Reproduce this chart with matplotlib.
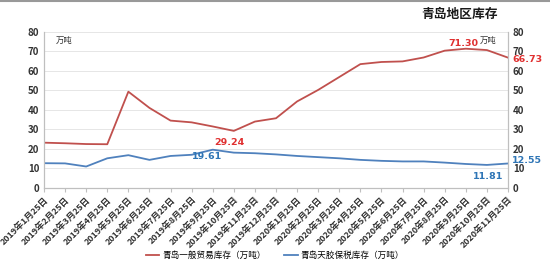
import matplotlib
matplotlib.use("Agg")
import matplotlib.pyplot as plt
from matplotlib.lines import Line2D

plt.rcParams["font.family"] = ["Noto Sans CJK SC", "DejaVu Sans"]

months = ["2019年1月25日", "2019年2月25日", "2019年3月25日", "2019年4月25日",
          "2019年5月25日", "2019年6月25日", "2019年7月25日", "2019年8月25日",
          "2019年9月25日", "2019年10月25日", "2019年11月25日", "2019年12月25日",
          "2020年1月25日", "2020年2月25日", "2020年3月25日", "2020年4月25日",
          "2020年5月25日", "2020年6月25日", "2020年7月25日", "2020年8月25日",
          "2020年9月25日", "2020年10月25日", "2020年11月25日"]
general_trade = [23.2, 22.9, 22.5, 22.4, 49.3, 41.0, 34.5, 33.6, 31.5, 29.24,
                 34.0, 35.7, 44.3, 50.2, 56.8, 63.4, 64.5, 64.8, 66.8, 70.3,
                 71.30, 70.6, 66.73]
bonded = [12.7, 12.6, 11.0, 15.2, 16.8, 14.4, 16.4, 17.0, 19.61, 18.1,
          17.8, 17.2, 16.4, 15.8, 15.2, 14.4, 13.9, 13.6, 13.6, 13.0,
          12.3, 11.81, 12.55]
name_red = "青岛一般贸易库存（万吨）"
name_blue = "青岛天胶保税库存（万吨）"

RED = "#C0504D"
BLUE = "#4F81BD"
RED_TXT = "#E03030"
BLUE_TXT = "#2E75B6"
GRID = "#E6E6E6"
SPINE = "#BFBFBF"

fig = plt.figure(figsize=(5.5, 2.68), dpi=100)
ax = fig.add_axes([0.08, 0.2985, 0.8436, 0.5832])
ax2 = ax.twinx()

x = list(range(len(months)))
ax.plot(x, general_trade, color=RED, lw=1.3)
ax.plot(x, bonded, color=BLUE, lw=1.3)

for a in (ax, ax2):
    a.set_ylim(0, 80)
    a.set_yticks(range(0, 81, 10))
    a.tick_params(axis="y", length=0, labelsize=7, labelcolor="#333333")
    for lbl in a.get_yticklabels():
        lbl.set_fontweight("bold")
    for s in a.spines.values():
        s.set_color(SPINE)
        s.set_linewidth(0.8)
    a.spines["top"].set_visible(False)

ax.set_xlim(0, len(months) - 1)
ax.set_xticks(x)
ax.set_xticklabels(months, rotation=45, ha="right", rotation_mode="anchor",
                   fontsize=6.4, fontweight="bold", color="#333333")
ax.tick_params(axis="x", length=3, color=SPINE, pad=2)
ax.yaxis.grid(True, color=GRID, lw=0.7)
ax.set_axisbelow(True)

ax.text(0.025, 0.93, "万吨", transform=ax.transAxes, fontsize=6, color="#333333")
ax.text(0.975, 0.93, "万吨", transform=ax.transAxes, fontsize=6,
        color="#333333", ha="right")

# data labels
lab = dict(fontsize=6.8, fontweight="bold", family=["DejaVu Sans"])
ax.annotate(f"{general_trade[9]:.2f}", (9, general_trade[9]), xytext=(-3, -10),
            textcoords="offset points", ha="center", color=RED_TXT, **lab)
ax.annotate(f"{general_trade[20]:.2f}", (20, general_trade[20]), xytext=(-2, 2),
            textcoords="offset points", ha="center", color=RED_TXT, **lab)
ax.annotate(f"{general_trade[22]:.2f}", (22, general_trade[22]), xytext=(3, -1),
            textcoords="offset points", ha="left", va="center", color=RED_TXT, **lab)
ax.annotate(f"{bonded[8]:.2f}", (8, bonded[8]), xytext=(-4, -7),
            textcoords="offset points", ha="center", color=BLUE_TXT, **lab)
ax.annotate(f"{bonded[21]:.2f}", (21, bonded[21]), xytext=(1, -10),
            textcoords="offset points", ha="center", color=BLUE_TXT, **lab)
ax.annotate(f"{bonded[22]:.2f}", (22, bonded[22]), xytext=(3, 2),
            textcoords="offset points", ha="left", va="center", color=BLUE_TXT, **lab)

handles = [Line2D([], [], color=RED, lw=1.3), Line2D([], [], color=BLUE, lw=1.3)]
fig.legend(handles, [name_red, name_blue], loc="center", ncol=2,
           bbox_to_anchor=(0.5, 0.048), frameon=False, fontsize=6.2,
           handlelength=1.6, columnspacing=2.2, handletextpad=0.3)

fig.text(0.905, 0.945, "青岛地区库存", ha="right", va="center",
         fontsize=9.2, fontweight="bold", color="#1a1a1a")
fig.add_artist(Line2D([0, 1], [0.996, 0.996], transform=fig.transFigure,
                      color="#999999", lw=1.5))

fig.savefig("out.png", dpi=100)
